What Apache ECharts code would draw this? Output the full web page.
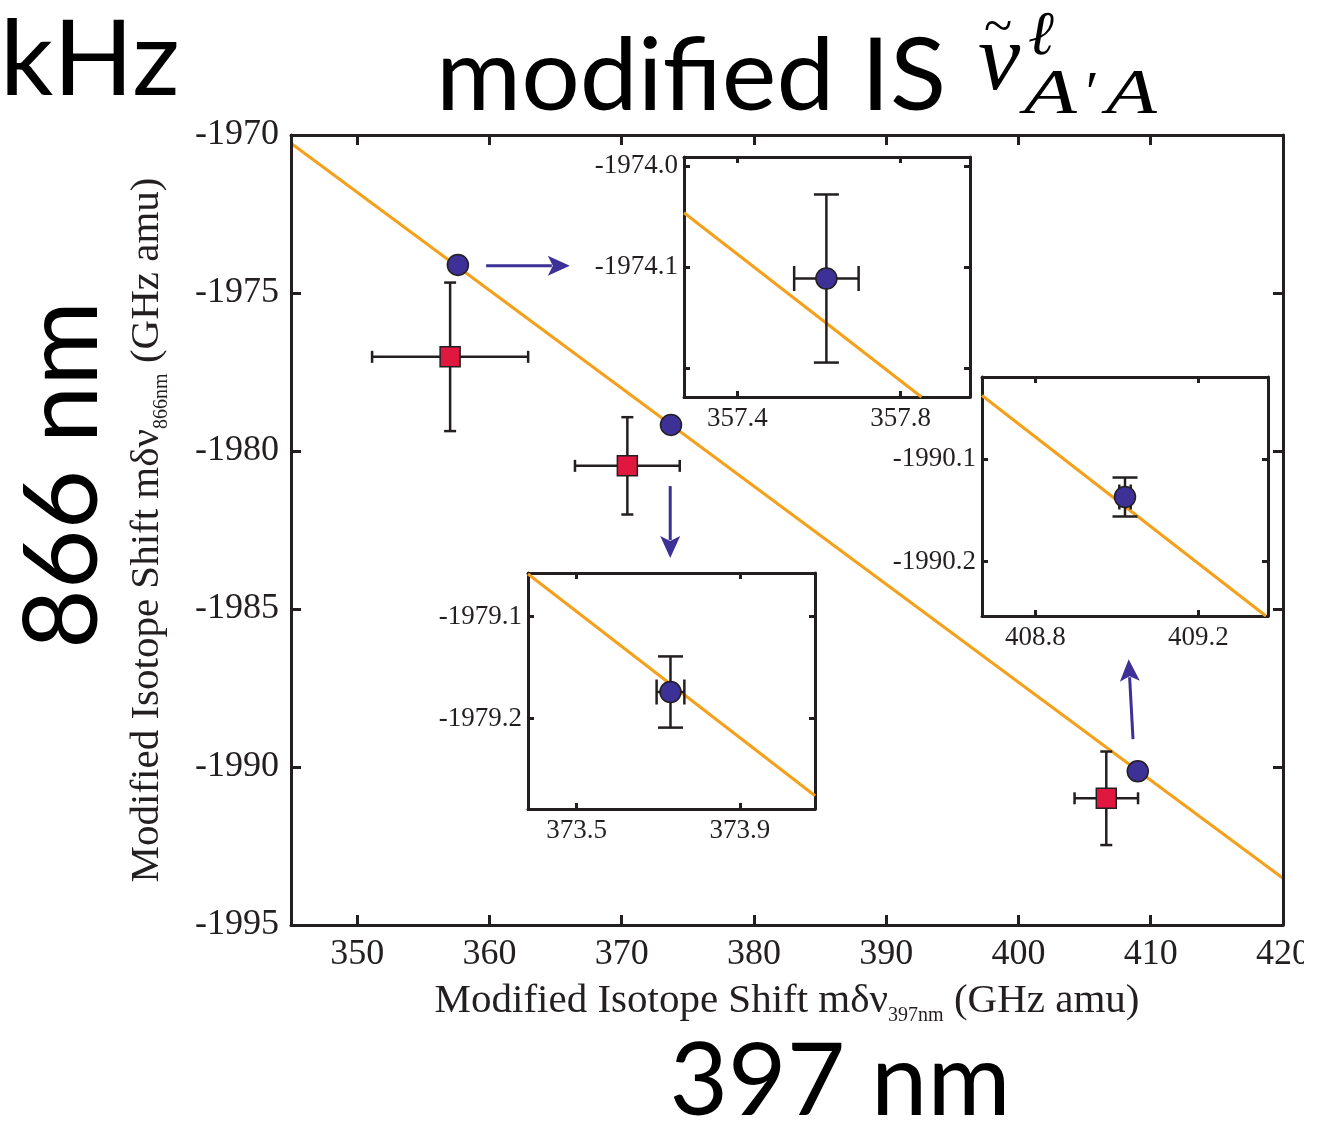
<!DOCTYPE html>
<html>
<head>
<meta charset="utf-8">
<script src="https://cdn.jsdelivr.net/npm/echarts@6/dist/echarts.min.js"></script>
<style>
  html, body { margin: 0; padding: 0; background: #fff; }
  #main { width: 1304px; height: 1125px; }
</style>
</head>
<body>
<div id="main"></div>
<script>
// ==================================================
// data
// isotope pairs measured (circles) -- x, y, errors
var circleX = [357.618, 373.730, 409.020];
var circleY = [-1974.111, -1979.174, -1990.137];
var circleXErr = [0.079, 0.034, 0.014];
var circleYErr = [0.083, 0.035, 0.019];

// older values (squares)
var squareX = [357.03, 370.43, 406.64];
var squareY = [-1977.02, -1980.47, -1990.99];
var squareXErr = [5.9, 3.96, 2.4];
var squareYErr = [2.35, 1.54, 1.48];

// fit line, main plot and the 3 zooms
var fitMain = [[345, -1970.26], [420, -1993.52]];
var fitZoom1 = [[357.269, -1974.046], [357.851, -1974.228]];
var fitZoom2 = [[373.381, -1979.058], [374.084, -1979.276]];
var fitZoom3 = [[408.669, -1990.038], [409.366, -1990.253]];

// arrows main -> zoom  [x1, y1, x2, y2]
var arrows = [
  [359.75, -1974.14, 366.08, -1974.14],
  [373.67, -1981.11, 373.67, -1983.39],
  [408.66, -1989.12, 408.33, -1986.59]
];

// ticks
var mainXTicks = [350, 360, 370, 380, 390, 400, 410, 420];
var mainYTicks = [-1995, -1990, -1985, -1980, -1975, -1970];
var zoomXTicks = [[357.4, 357.8], [373.5, 373.9], [408.8, 409.2]];
var zoomYTicks = [[-1974.2, -1974.1, -1974.0], [-1979.2, -1979.1], [-1990.2, -1990.1]];
var zoomYLabels = [[-1974.1, -1974.0], [-1979.2, -1979.1], [-1990.2, -1990.1]];
// axis ranges of the zooms
var zoomXRange = [[357.269, 357.970], [373.381, 374.084], [408.669, 409.371]];
var zoomYRange = [[-1974.228, -1973.991], [-1979.289, -1979.057], [-1990.253, -1990.020]];


// ==================================================
var INK = '#231f20';
var ORANGE = '#f5a01a';
var BLUE = '#3d3096';
var RED = '#e0173f';
var SERIF = 'Liberation Serif';
var SANS = 'Lato';

var chart = echarts.init(document.getElementById('main'));

// grids: main, zoom1, zoom2, zoom3
var grids = [
  { left: 291, top: 135, width: 992, height: 790 },
  { left: 684, top: 157, width: 286, height: 240 },
  { left: 528, top: 573, width: 287, height: 236 },
  { left: 982, top: 377, width: 286, height: 239 }
];

function axisBase(z) {
  return {
    z: z,
    splitLine: { show: false },
    axisLine: { show: true, onZero: false, lineStyle: { color: INK, width: 3 } },
    axisTick: { show: true, inside: true, lineStyle: { color: INK, width: 3 } }
  };
}

function fmt0(v) { return String(Math.round(v)); }
function fmt1(v) { return (+v).toFixed(1); }

var nameRich = {
  t: { fontFamily: SERIF, fontSize: 41, color: INK, lineHeight: 50 },
  s: { fontFamily: SERIF, fontSize: 20, color: INK, lineHeight: 20, verticalAlign: 'bottom' }
};

var xAxes = [];
var yAxes = [];

// main axes
[['bottom', true], ['top', false]].forEach(function (p) {
  var a = axisBase(3);
  a.type = 'value'; a.gridIndex = 0; a.position = p[0];
  a.min = 345; a.max = 420;
  a.axisTick.length = 10;
  a.axisTick.customValues = mainXTicks;
  a.axisLabel = { show: p[1], customValues: mainXTicks, formatter: fmt0, fontFamily: SERIF, fontSize: 36, color: INK, margin: 12 };
  if (p[1]) {
    a.name = '{t|Modified Isotope Shift mδν}{s|397nm}{t| (GHz amu)}';
    a.nameLocation = 'middle';
    a.nameGap = 51;
    a.nameTextStyle = { rich: nameRich };
  }
  xAxes.push(a);
});
[['left', true], ['right', false]].forEach(function (p) {
  var a = axisBase(3);
  a.type = 'value'; a.gridIndex = 0; a.position = p[0];
  a.min = -1995; a.max = -1970;
  a.axisTick.length = 10;
  a.axisTick.customValues = mainYTicks;
  a.axisLabel = { show: p[1], customValues: mainYTicks, formatter: fmt0, fontFamily: SERIF, fontSize: 36, color: INK, margin: 12 };
  if (p[1]) {
    a.name = '{t|Modified Isotope Shift mδν}{s|866nm}{t| (GHz amu)}';
    a.nameLocation = 'middle';
    a.nameGap = 119;
    a.nameTextStyle = { rich: nameRich };
  }
  yAxes.push(a);
});

// zoom axes
for (var k = 0; k < 3; k++) {
  [['bottom', true], ['top', false]].forEach(function (p) {
    var a = axisBase(11);
    a.type = 'value'; a.gridIndex = k + 1; a.position = p[0];
    a.min = zoomXRange[k][0]; a.max = zoomXRange[k][1];
    a.axisTick.length = 6;
    a.axisTick.customValues = zoomXTicks[k];
    a.axisLabel = { show: p[1], customValues: zoomXTicks[k], formatter: fmt1, fontFamily: SERIF, fontSize: 27, color: INK, margin: 8 };
    xAxes.push(a);
  });
  [['left', true], ['right', false]].forEach(function (p) {
    var a = axisBase(11);
    a.type = 'value'; a.gridIndex = k + 1; a.position = p[0];
    a.min = zoomYRange[k][0]; a.max = zoomYRange[k][1];
    a.axisTick.length = 6;
    a.axisTick.customValues = zoomYTicks[k];
    a.axisLabel = { show: p[1], customValues: zoomYLabels[k], formatter: fmt1, fontFamily: SERIF, fontSize: 27, color: INK, margin: 6 };
    yAxes.push(a);
  });
}

// error bar drawing
function errorBars(capHalf, lw) {
  return function (params, api) {
    var x = api.value(0), y = api.value(1), ex = api.value(2), ey = api.value(3);
    var l = api.coord([x - ex, y]), r = api.coord([x + ex, y]);
    var t = api.coord([x, y + ey]), b = api.coord([x, y - ey]);
    var st = { stroke: INK, lineWidth: lw, fill: null };
    return {
      type: 'group',
      children: [
        { type: 'line', shape: { x1: l[0], y1: l[1], x2: r[0], y2: r[1] }, style: st },
        { type: 'line', shape: { x1: l[0], y1: l[1] - capHalf, x2: l[0], y2: l[1] + capHalf }, style: st },
        { type: 'line', shape: { x1: r[0], y1: r[1] - capHalf, x2: r[0], y2: r[1] + capHalf }, style: st },
        { type: 'line', shape: { x1: t[0], y1: t[1], x2: b[0], y2: b[1] }, style: st },
        { type: 'line', shape: { x1: t[0] - capHalf, y1: t[1], x2: t[0] + capHalf, y2: t[1] }, style: st },
        { type: 'line', shape: { x1: b[0] - capHalf, y1: b[1], x2: b[0] + capHalf, y2: b[1] }, style: st }
      ]
    };
  };
}

// arrow drawing
function arrowItem(params, api) {
  var p1 = api.coord([api.value(0), api.value(1)]);
  var p2 = api.coord([api.value(2), api.value(3)]);
  var dx = p2[0] - p1[0], dy = p2[1] - p1[1];
  var len = Math.sqrt(dx * dx + dy * dy);
  var ux = dx / len, uy = dy / len;
  var headL = 22, headW = 10;
  var bx = p2[0] - ux * headL, by = p2[1] - uy * headL;
  return {
    type: 'group',
    children: [
      { type: 'line', shape: { x1: p1[0], y1: p1[1], x2: bx + ux * 4, y2: by + uy * 4 }, style: { stroke: BLUE, lineWidth: 3 } },
      { type: 'polygon', shape: { points: [
        [p2[0], p2[1]],
        [bx - uy * headW, by + ux * headW],
        [bx + ux * 5, by + uy * 5],
        [bx + uy * headW, by - ux * headW]
      ] }, style: { fill: BLUE } }
    ]
  };
}

var squareData = squareX.map(function (v, i) { return [v, squareY[i], squareXErr[i], squareYErr[i]]; });
var circleData = circleX.map(function (v, i) { return [v, circleY[i], circleXErr[i], circleYErr[i]]; });

var series = [
  {
    type: 'line', xAxisIndex: 0, yAxisIndex: 0, data: fitMain, showSymbol: false, symbol: 'none',
    lineStyle: { color: ORANGE, width: 3 }, z: 2, silent: true, animation: false
  },
  {
    type: 'custom', xAxisIndex: 0, yAxisIndex: 0, data: squareData, renderItem: errorBars(6, 2.5), z: 3, animation: false
  },
  {
    type: 'scatter', xAxisIndex: 0, yAxisIndex: 0, data: squareData.map(function (d) { return [d[0], d[1]]; }),
    symbol: 'rect', symbolSize: 20, itemStyle: { color: RED, borderColor: INK, borderWidth: 1.5, opacity: 1 }, z: 4, animation: false
  },
  {
    type: 'scatter', xAxisIndex: 0, yAxisIndex: 0, data: circleData.map(function (d) { return [d[0], d[1]]; }),
    symbol: 'circle', symbolSize: 21, itemStyle: { color: BLUE, borderColor: INK, borderWidth: 1.5, opacity: 1 }, z: 4, animation: false
  },
  {
    type: 'custom', xAxisIndex: 0, yAxisIndex: 0, data: arrows, renderItem: arrowItem, z: 4, animation: false
  }
];

// zoom panels
var zoomFits = [fitZoom1, fitZoom2, fitZoom3];
for (var j = 0; j < 3; j++) {
  var xi = 2 + j * 2, yi = 2 + j * 2;
  series.push({
    type: 'line', xAxisIndex: xi, yAxisIndex: yi, data: zoomFits[j], showSymbol: false, symbol: 'none',
    lineStyle: { color: ORANGE, width: 3 }, z: 12, silent: true, clip: true, animation: false
  });
  series.push({
    type: 'custom', xAxisIndex: xi, yAxisIndex: yi, data: [circleData[j]], renderItem: errorBars(12.5, 2.5), z: 13, animation: false
  });
  series.push({
    type: 'scatter', xAxisIndex: xi, yAxisIndex: yi, data: [[circleX[j], circleY[j]]],
    symbol: 'circle', symbolSize: 21, itemStyle: { color: BLUE, borderColor: INK, borderWidth: 1.5, opacity: 1 }, z: 14, animation: false
  });
}

var option = {
  backgroundColor: '#fff',
  animation: false,
  grid: grids.map(function (g, i) {
    return {
      left: g.left, top: g.top, width: g.width, height: g.height,
      containLabel: false, outerBoundsMode: 'none',
      show: i > 0, backgroundColor: '#fff', borderWidth: 0, z: i > 0 ? 10 : 0
    };
  }),
  xAxis: xAxes,
  yAxis: yAxes,
  series: series,
  graphic: [
    // big labels
    { type: 'text', x: 0, y: 9, z: 50, style: { text: 'kHz', font: '105px ' + SANS, fill: '#000' } },
    { type: 'text', x: 436, y: 28, scaleX: 1.035, z: 50, style: { text: 'modified IS', font: '100px ' + SANS, fill: '#000' } },
    // nu tilde ^ell _{A'A}
    { type: 'text', x: 978, y: 17, z: 50, style: { text: 'ν', font: 'italic 95px ' + SERIF, fill: '#000' } },
    { type: 'text', x: 984, y: 3, z: 50, style: { text: '~', font: '52px ' + SERIF, fill: '#000' } },
    { type: 'text', x: 1028, y: 7, z: 50, style: { text: 'ℓ', font: 'italic 62px DejaVu Serif', fill: '#000' } },
    { type: 'text', x: 1024, y: 64, scaleX: 1.35, z: 50, style: { text: 'A', font: 'italic 64px ' + SERIF, fill: '#000' } },
    { type: 'text', x: 1082, y: 66, z: 50, style: { text: '′', font: 'italic 60px ' + SERIF, fill: '#000' } },
    { type: 'text', x: 1106, y: 64, scaleX: 1.3, z: 50, style: { text: 'A', font: 'italic 64px ' + SERIF, fill: '#000' } },
    { type: 'text', x: 64, y: 475, rotation: Math.PI / 2, z: 50, style: { text: '866 nm', font: '103px ' + SANS, fill: '#000', align: 'center', verticalAlign: 'middle' } },
    { type: 'text', x: 840, y: 1082, z: 50, style: { text: '397 nm', font: '101px ' + SANS, fill: '#000', align: 'center', verticalAlign: 'middle' } }
  ]
};

chart.setOption(option);

// resize
window.addEventListener('resize', function () {
  chart.resize();
});
</script>
</body>
</html>
